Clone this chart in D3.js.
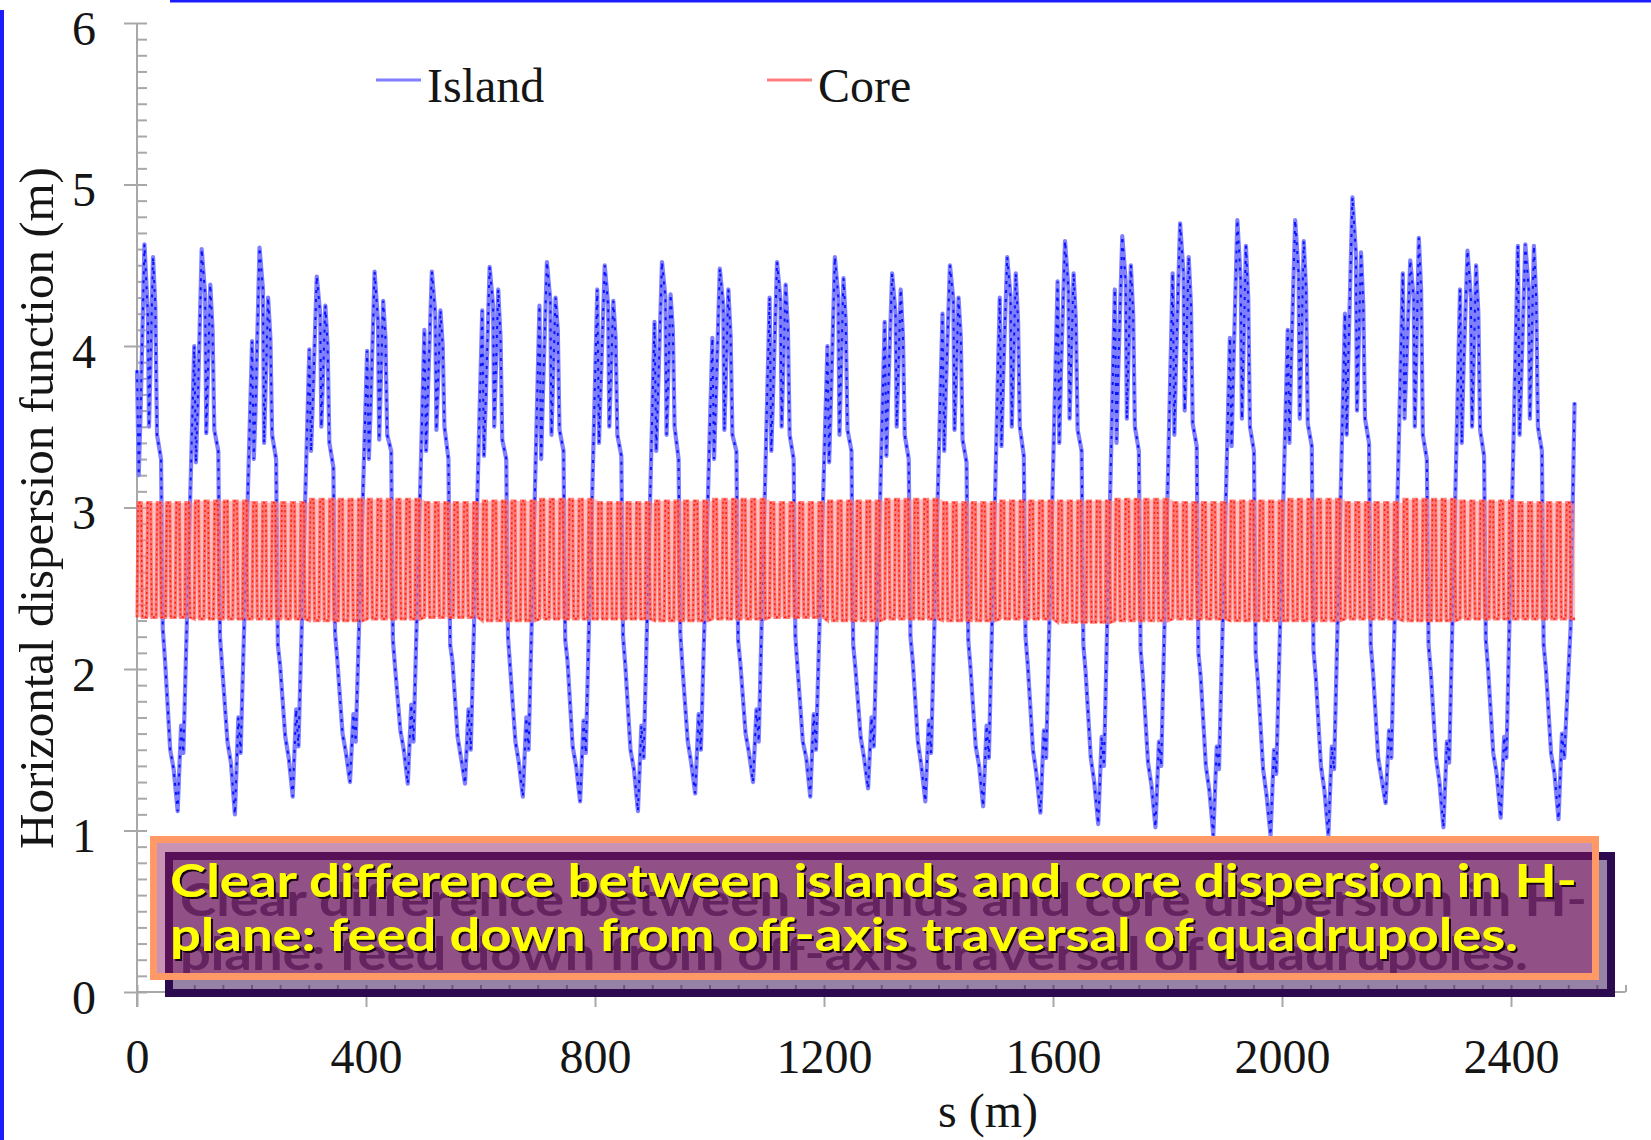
<!DOCTYPE html>
<html><head><meta charset="utf-8">
<script src="https://cdn.jsdelivr.net/npm/d3@7"></script>
<style>html,body{margin:0;padding:0;background:#fff;}svg{display:block}</style>
</head><body>
<svg id="c" width="1651" height="1140"></svg>
<script>
// ---------------- data ----------------
const xTicks = [0, 400, 800, 1200, 1600, 2000, 2400];
const yTicks = [0, 1, 2, 3, 4, 5, 6];
const seriesNames = ["Island", "Core"];
const xTitle = "s (m)";
const yTitle = "Horizontal dispersion function (m)";
const noteLines = ["Clear difference between islands and core dispersion in H-",
                   "plane: feed down from off-axis traversal of quadrupoles."];

// start of each ~100 m superperiod (s, m)
const periodStart = [0, 100, 201, 301, 402, 502, 603, 703, 804, 904, 1005, 1105, 1206,
                     1306, 1407, 1507, 1608, 1708, 1809, 1909, 2010, 2110, 2211, 2311, 2412];
// positions (m) inside a superperiod at which island values are read
const islandOffsets = [0, 3, 6, 13, 19, 21, 28, 32, 35, 42, 45, 49, 58, 64, 71, 77, 81];
// island dispersion (m), one row per superperiod
const islandRows = [
  [3.85, 3.20, 3.55, 4.63, 4.20, 3.50, 4.55, 4.25, 3.45, 3.30, 2.25, 2.05, 1.50, 1.38, 1.12, 1.65, 1.48],
  [4.00, 3.28, 3.62, 4.60, 4.32, 3.46, 4.38, 4.10, 3.48, 3.35, 2.20, 2.00, 1.55, 1.42, 1.10, 1.70, 1.48],
  [4.03, 3.30, 3.60, 4.61, 4.35, 3.40, 4.30, 4.05, 3.45, 3.30, 2.15, 2.02, 1.58, 1.45, 1.21, 1.75, 1.52],
  [3.98, 3.35, 3.65, 4.43, 4.20, 3.50, 4.25, 4.00, 3.40, 3.25, 2.22, 2.05, 1.60, 1.48, 1.30, 1.72, 1.55],
  [3.97, 3.30, 3.60, 4.46, 4.15, 3.42, 4.28, 4.05, 3.45, 3.35, 2.18, 2.00, 1.62, 1.50, 1.29, 1.78, 1.55],
  [4.10, 3.35, 3.70, 4.46, 4.20, 3.48, 4.22, 4.00, 3.50, 3.30, 2.15, 2.05, 1.58, 1.45, 1.29, 1.75, 1.50],
  [4.22, 3.32, 3.65, 4.49, 4.25, 3.50, 4.35, 4.05, 3.42, 3.30, 2.20, 2.00, 1.55, 1.42, 1.21, 1.70, 1.50],
  [4.25, 3.30, 3.70, 4.52, 4.28, 3.45, 4.30, 4.10, 3.48, 3.35, 2.18, 2.05, 1.52, 1.40, 1.18, 1.68, 1.48],
  [4.35, 3.40, 3.75, 4.50, 4.25, 3.50, 4.28, 4.05, 3.45, 3.32, 2.20, 2.02, 1.50, 1.38, 1.12, 1.65, 1.45],
  [4.15, 3.35, 3.70, 4.52, 4.30, 3.45, 4.32, 4.10, 3.50, 3.30, 2.22, 2.00, 1.55, 1.42, 1.23, 1.72, 1.50],
  [4.05, 3.30, 3.65, 4.48, 4.25, 3.48, 4.35, 4.05, 3.45, 3.35, 2.18, 2.03, 1.60, 1.48, 1.30, 1.75, 1.55],
  [4.30, 3.35, 3.70, 4.52, 4.28, 3.50, 4.38, 4.10, 3.45, 3.30, 2.20, 2.00, 1.55, 1.45, 1.21, 1.72, 1.50],
  [4.00, 3.28, 3.65, 4.55, 4.30, 3.45, 4.42, 4.15, 3.48, 3.35, 2.15, 2.00, 1.58, 1.45, 1.26, 1.70, 1.52],
  [4.15, 3.32, 3.70, 4.45, 4.20, 3.50, 4.35, 4.05, 3.45, 3.30, 2.20, 2.05, 1.55, 1.40, 1.18, 1.68, 1.48],
  [4.20, 3.35, 3.75, 4.50, 4.28, 3.48, 4.30, 4.05, 3.42, 3.28, 2.18, 2.00, 1.52, 1.40, 1.15, 1.65, 1.45],
  [4.30, 3.38, 3.80, 4.55, 4.30, 3.50, 4.45, 4.15, 3.50, 3.32, 2.20, 2.02, 1.50, 1.35, 1.11, 1.62, 1.45],
  [4.40, 3.40, 3.85, 4.65, 4.35, 3.55, 4.45, 4.15, 3.48, 3.35, 2.15, 1.98, 1.45, 1.30, 1.04, 1.58, 1.40],
  [4.35, 3.40, 3.85, 4.68, 4.40, 3.55, 4.50, 4.20, 3.50, 3.35, 2.12, 1.95, 1.42, 1.28, 1.02, 1.55, 1.40],
  [4.45, 3.45, 3.90, 4.76, 4.45, 3.60, 4.55, 4.25, 3.52, 3.38, 2.10, 1.95, 1.40, 1.25, 0.97, 1.52, 1.38],
  [4.05, 3.38, 3.85, 4.78, 4.40, 3.55, 4.62, 4.30, 3.50, 3.35, 2.10, 1.92, 1.38, 1.22, 0.97, 1.50, 1.35],
  [4.10, 3.40, 3.90, 4.78, 4.45, 3.55, 4.65, 4.35, 3.52, 3.38, 2.12, 1.95, 1.40, 1.25, 0.97, 1.52, 1.38],
  [4.20, 3.45, 3.95, 4.92, 4.58, 3.60, 4.58, 4.25, 3.55, 3.40, 2.15, 1.98, 1.45, 1.32, 1.17, 1.62, 1.45],
  [4.45, 3.55, 3.85, 4.53, 4.30, 3.50, 4.67, 4.35, 3.45, 3.30, 2.15, 1.98, 1.45, 1.30, 1.02, 1.55, 1.42],
  [4.35, 3.40, 3.85, 4.59, 4.30, 3.50, 4.50, 4.20, 3.48, 3.32, 2.18, 2.00, 1.48, 1.35, 1.08, 1.58, 1.45],
  [4.62, 3.45, 3.80, 4.63, 4.35, 3.55, 4.62, 4.30, 3.50, 3.35, 2.15, 2.00, 1.48, 1.35, 1.07, 1.60, 1.45]
];
const islandTail = [[2504, 2.25], [2511, 3.65]];

// core dispersion: six cells per superperiod, levels read per superperiod
const coreCellsPerPeriod = 6;
const coreEnd = 2512;
const coreTop = [3.03, 3.04, 3.03, 3.05, 3.05, 3.03, 3.04, 3.05, 3.03, 3.04, 3.05, 3.03, 3.04,
                 3.05, 3.03, 3.04, 3.04, 3.05, 3.03, 3.04, 3.05, 3.03, 3.05, 3.04, 3.03];
const coreBot = [2.32, 2.31, 2.31, 2.30, 2.31, 2.32, 2.30, 2.31, 2.31, 2.30, 2.31, 2.32, 2.30,
                 2.31, 2.30, 2.31, 2.29, 2.30, 2.31, 2.30, 2.30, 2.31, 2.30, 2.31, 2.31];
const coreMidUp = [2.67, 2.66, 2.67, 2.68, 2.67, 2.66, 2.67, 2.68, 2.67, 2.66, 2.67, 2.67, 2.66,
                   2.68, 2.67, 2.66, 2.67, 2.68, 2.67, 2.66, 2.67, 2.67, 2.68, 2.67, 2.66];
const coreMidDown = [2.57, 2.58, 2.56, 2.57, 2.58, 2.57, 2.56, 2.57, 2.58, 2.57, 2.56, 2.57, 2.58,
                     2.57, 2.56, 2.57, 2.58, 2.57, 2.56, 2.57, 2.58, 2.57, 2.56, 2.57, 2.58];
// fraction of a cell and which level the core curve sits on there
const coreCellFrac = [0, 0.06, 0.12, 0.44, 0.50, 0.56];
const coreCellLevel = ["bot", "midUp", "top", "top", "midDown", "bot"];

// ---------------- build points ----------------
const islandPts = [];
islandRows.forEach((row, k) => row.forEach((v, j) => islandPts.push([periodStart[k] + islandOffsets[j], v])));
islandTail.forEach(p => islandPts.push(p));

const corePts = [];
periodStart.forEach((s0, k) => {
  const s1 = k + 1 < periodStart.length ? periodStart[k + 1] : coreEnd;
  const cell = (s1 - s0) / coreCellsPerPeriod;
  const lv = {bot: coreBot[k], top: coreTop[k], midUp: coreMidUp[k], midDown: coreMidDown[k]};
  for (let c = 0; c < coreCellsPerPeriod; c++) {
    coreCellFrac.forEach((f, i) => corePts.push([s0 + (c + f) * cell, lv[coreCellLevel[i]]]));
  }
});
corePts.push([coreEnd, coreBot[coreBot.length - 1]]);
const coreBand = periodStart.map((s, k) => ({s, lo: coreBot[k], hi: coreTop[k]}));
coreBand.push({s: coreEnd, lo: coreBot[coreBot.length - 1], hi: coreTop[coreTop.length - 1]});

// ---------------- drawing ----------------
const W = 1651, H = 1140;
const x = d3.scaleLinear().domain([0, 2600]).range([137, 1625.5]);
const y = d3.scaleLinear().domain([0, 6]).range([992, 23]);
const svg = d3.select("#c");
const serif = "'Liberation Serif','Times New Roman',serif";
const axisCol = "#a8a8a8";

// filters for the annotation text (ghost shadow + thin dark edge)
const defs = svg.append("defs");
const f = defs.append("filter").attr("id", "noteFx")
  .attr("x", "-2%").attr("y", "-40%").attr("width", "104%").attr("height", "200%");
f.append("feOffset").attr("in", "SourceAlpha").attr("dx", 10).attr("dy", 19).attr("result", "gOff");
f.append("feFlood").attr("flood-color", "#581656").attr("flood-opacity", 0.8).attr("result", "gCol");
f.append("feComposite").attr("in", "gCol").attr("in2", "gOff").attr("operator", "in").attr("result", "ghost");
f.append("feOffset").attr("in", "SourceAlpha").attr("dx", 2).attr("dy", 2).attr("result", "sOff");
f.append("feFlood").attr("flood-color", "#140014").attr("result", "sCol");
f.append("feComposite").attr("in", "sCol").attr("in2", "sOff").attr("operator", "in").attr("result", "edge");
const fm = f.append("feMerge");
fm.append("feMergeNode").attr("in", "ghost");
fm.append("feMergeNode").attr("in", "edge");
fm.append("feMergeNode").attr("in", "SourceGraphic");
defs.append("clipPath").attr("id", "noteclip").append("rect")
  .attr("x", 157).attr("y", 843).attr("width", 1435).attr("height", 130);

// slide frame
svg.append("rect").attr("x", 0).attr("y", 10).attr("width", 4).attr("height", H - 10).attr("fill", "#1c1cff");
svg.append("rect").attr("x", 170).attr("y", 0).attr("width", W - 170).attr("height", 2.5).attr("fill", "#1c1cff");

// axes
function styleAxis(g) {
  g.select(".domain").remove();
  g.selectAll(".tick line").attr("stroke", axisCol).attr("stroke-width", 2);
  g.selectAll("text").attr("font-family", serif).attr("font-size", 48).attr("fill", "#151515");
}
svg.append("g").attr("transform", `translate(${x(0)},0)`)
  .call(d3.axisRight(y).tickValues(d3.range(0, 61).map(i => i / 10)).tickSize(10).tickFormat(""))
  .call(styleAxis);
svg.append("g").attr("transform", `translate(${x(0)},0)`)
  .call(d3.axisLeft(y).tickValues(yTicks).tickSize(13).tickPadding(28).tickFormat(d3.format("d")))
  .call(styleAxis)
  .selectAll("text").attr("dy", "0.44em");
svg.append("g").attr("transform", `translate(0,${y(0)})`)
  .call(d3.axisTop(x).tickValues(d3.range(0, 2601, 50)).tickSize(7).tickFormat(""))
  .call(styleAxis);
svg.append("g").attr("transform", `translate(0,${y(0)})`)
  .call(d3.axisBottom(x).tickValues(xTicks).tickSize(15).tickPadding(32).tickFormat(d3.format("d")))
  .call(styleAxis);
svg.append("line").attr("x1", x(0)).attr("x2", x(0)).attr("y1", y(6)).attr("y2", y(0) + 15)
  .attr("stroke", axisCol).attr("stroke-width", 2);
svg.append("line").attr("x1", x(0)).attr("x2", x(2600)).attr("y1", y(0)).attr("y2", y(0))
  .attr("stroke", axisCol).attr("stroke-width", 2);

// axis titles
svg.append("text").attr("x", 988).attr("y", 1127).attr("text-anchor", "middle")
  .attr("font-family", serif).attr("font-size", 48).attr("fill", "#151515").text(xTitle);
svg.append("text").attr("transform", "translate(53,508) rotate(-90)").attr("text-anchor", "middle")
  .attr("font-family", serif).attr("font-size", 49).attr("fill", "#151515").text(yTitle);

const line = d3.line().x(d => x(d[0])).y(d => y(d[1]));

// island
svg.append("path").attr("d", line(islandPts)).attr("fill", "none")
  .attr("stroke", "#8080ff").attr("stroke-width", 4.2).attr("stroke-linejoin", "round");
svg.append("path").attr("d", line(islandPts)).attr("fill", "none")
  .attr("stroke", "#0814ff").attr("stroke-width", 2).attr("stroke-dasharray", "3,6");

// core
const band = d3.area().curve(d3.curveStepAfter).x(d => x(d.s)).y0(d => y(d.lo)).y1(d => y(d.hi));
svg.append("path").attr("d", band(coreBand)).attr("fill", "#ff8c8c").attr("opacity", 0.55);
svg.append("path").attr("d", line(corePts)).attr("fill", "none")
  .attr("stroke", "#ff6060").attr("stroke-width", 3.2).attr("opacity", 0.8);
svg.append("path").attr("d", line(corePts)).attr("fill", "none")
  .attr("stroke", "#ff2000").attr("stroke-width", 1.5).attr("stroke-dasharray", "2,3");

// legend
const legend = [{name: seriesNames[0], col: "#7f7fff", x0: 376}, {name: seriesNames[1], col: "#ff7f7f", x0: 767}];
legend.forEach(l => {
  svg.append("line").attr("x1", l.x0).attr("x2", l.x0 + 45).attr("y1", 80).attr("y2", 80)
    .attr("stroke", l.col).attr("stroke-width", 3);
  svg.append("text").attr("x", l.x0 + 51).attr("y", 102).attr("font-family", serif)
    .attr("font-size", 48).attr("fill", "#151515").text(l.name);
});

// annotation box
svg.append("rect").attr("x", 169).attr("y", 856).attr("width", 1442).attr("height", 137)
  .attr("fill", "rgba(45,5,80,0.5)").attr("stroke", "#2b0a4f").attr("stroke-width", 8);
svg.append("rect").attr("x", 153.5).attr("y", 839.5).attr("width", 1442).attr("height", 137)
  .attr("fill", "rgba(140,26,98,0.47)").attr("stroke", "#ff9a66").attr("stroke-width", 7);
const noteFont = "'Comic Sans MS','Lato','DejaVu Sans',sans-serif";
const noteBase = [897, 951], noteLen = [1407, 1348];
const noteG = svg.append("g").attr("clip-path", "url(#noteclip)");
noteLines.forEach((t, i) => {
  noteG.append("text").attr("x", 170).attr("y", noteBase[i]).attr("textLength", noteLen[i])
    .attr("lengthAdjust", "spacingAndGlyphs").attr("font-family", noteFont).attr("font-weight", 700)
    .attr("font-size", 46).attr("fill", "#ffff00").attr("filter", "url(#noteFx)").text(t);
});
</script>
</body></html>
